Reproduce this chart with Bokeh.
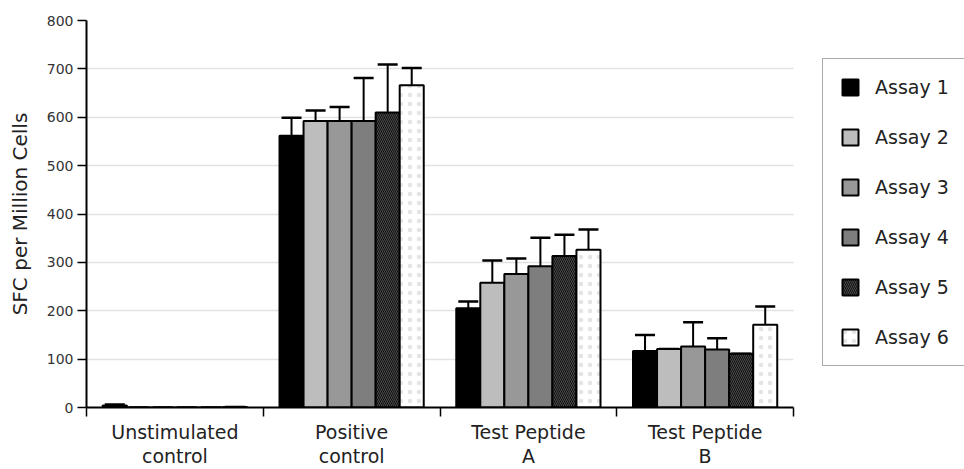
from bokeh.plotting import figure
from bokeh.models import (Range1d, LinearAxis, FixedTicker, ColumnDataSource, Whisker, TeeHead,
                          Legend, LegendItem)
from bokeh.transform import dodge
from bokeh.embed import file_html
from bokeh.resources import INLINE

categories = ["Unstimulated\ncontrol", "Positive\ncontrol", "Test Peptide\nA", "Test Peptide\nB"]
assay_names = ["Assay 1", "Assay 2", "Assay 3", "Assay 4", "Assay 5", "Assay 6"]
assay1 = [4, 562, 205, 117]
assay2 = [0, 592, 258, 121]
assay3 = [0, 592, 276, 126]
assay4 = [0, 592, 292, 120]
assay5 = [0, 610, 313, 111]
assay6 = [1, 666, 326, 171]
err1 = [2, 37, 14, 33]
err2 = [0, 22, 46, 0]
err3 = [0, 29, 32, 50]
err4 = [0, 89, 59, 23]
err5 = [0, 99, 44, 0]
err6 = [0, 36, 42, 38]
y_ticks = [0, 100, 200, 300, 400, 500, 600, 700, 800]

values = [assay1, assay2, assay3, assay4, assay5, assay6]
errors = [err1, err2, err3, err4, err5, err6]
fills = ["#000000", "#bdbdbd", "#989898", "#7e7e7e", "#4a4a4a", "#ffffff"]
hatches = [None, None, None, None, "\\", "."]
hatch_colors = ["black", "black", "black", "black", "#111111", "#e4e4e4"]
hatch_scales = [12, 12, 12, 12, 4, 9]

FONT = "DejaVu Sans"
n = len(categories)
centers = [k + 0.5 for k in range(n)]
# plot area continues under the legend; the category axis ends at x = n
x_end = n * 878 / 707

p = figure(x_range=Range1d(0, x_end), y_range=Range1d(0, 800),
           width=964, height=469, output_backend="svg", toolbar_location=None,
           x_axis_location=None, y_axis_location=None,
           min_border_left=86, min_border_right=0, min_border_top=20, min_border_bottom=61)
p.outline_line_color = None
p.xgrid.grid_line_color = None
p.ygrid.grid_line_color = "#e2e2e2"
p.ygrid.grid_line_width = 1.5
p.ygrid.ticker = FixedTicker(ticks=y_ticks)
g = p.ygrid[0]
if "cross_bounds" in g.properties():
    g.cross_bounds = (0, n)

# y axis
yax = LinearAxis(ticker=FixedTicker(ticks=y_ticks), axis_label="SFC per Million Cells")
yax.axis_line_width = 2
yax.axis_line_color = "black"
yax.major_tick_in = 0
yax.major_tick_out = 9
yax.major_tick_line_width = 1.5
yax.minor_tick_line_color = None
yax.major_label_text_font = FONT
yax.major_label_text_font_size = "14px"
yax.major_label_text_color = "#333333"
yax.major_label_standoff = 4
yax.axis_label_text_font = FONT
yax.axis_label_text_font_size = "20px"
yax.axis_label_text_font_style = "normal"
yax.axis_label_text_color = "#222222"
yax.axis_label_standoff = 12
p.add_layout(yax, "left")

# x axis: labels at category centres, ticks at category boundaries
xax = LinearAxis(ticker=FixedTicker(ticks=centers, minor_ticks=list(range(n + 1))),
                 major_label_overrides={c: lab for c, lab in zip(centers, categories)},
                 bounds=(0, n))
xax.axis_line_width = 2
xax.axis_line_color = "black"
xax.major_tick_line_color = None
xax.major_tick_in = 0
xax.major_tick_out = 0
xax.minor_tick_in = 0
xax.minor_tick_out = 9
xax.minor_tick_line_width = 1.5
xax.minor_tick_line_color = "black"
xax.major_label_text_font = FONT
xax.major_label_text_font_size = "19px"
xax.major_label_text_color = "#222222"
xax.major_label_text_line_height = 1.1
xax.major_label_standoff = 4
p.add_layout(xax, "below")

step = 0.136
items = []
for i in range(6):
    off = (i - 2.5) * step
    src = ColumnDataSource(dict(xc=centers, val=values[i],
                                up=[v + e for v, e in zip(values[i], errors[i])]))
    w = Whisker(base=dodge("xc", off), lower="val", upper="up", source=src,
                dimension="height", line_width=2, line_color="black",
                lower_head=None, upper_head=TeeHead(size=20, line_width=2.5, line_color="black"))
    p.add_layout(w)
    kw = dict(fill_color=fills[i], line_color="black", line_width=2)
    if hatches[i]:
        kw.update(hatch_pattern=hatches[i], hatch_color=hatch_colors[i],
                  hatch_scale=hatch_scales[i], hatch_weight=1)
    r = p.vbar(x=dodge("xc", off), top="val", width=step, bottom=0, source=src, **kw)
    items.append(LegendItem(label=assay_names[i], renderers=[r]))

legend = Legend(items=items, location=(736, 41))
legend.glyph_width = 20
legend.glyph_height = 20
legend.label_height = 22
legend.label_width = 95
legend.spacing = 28
legend.padding = 17
legend.margin = 0
legend.label_standoff = 15
legend.label_text_font = FONT
legend.label_text_font_size = "19px"
legend.label_text_color = "#222222"
legend.border_line_color = "#555555"
legend.border_line_width = 1
legend.background_fill_color = "white"
legend.background_fill_alpha = 1
p.add_layout(legend)

open("out.html", "w").write(file_html(p, INLINE))
